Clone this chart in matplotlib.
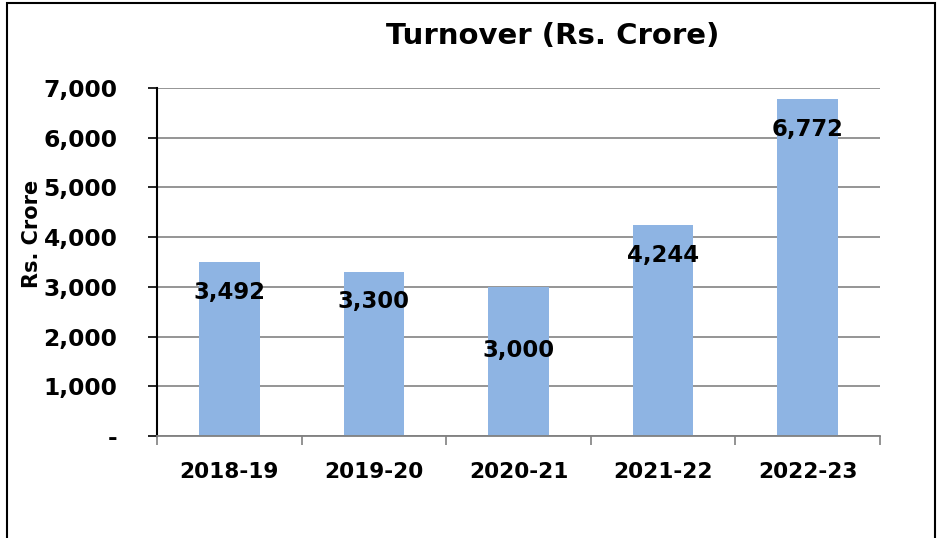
import matplotlib
matplotlib.use('Agg')
import matplotlib.pyplot as plt
from matplotlib.patches import Rectangle

years = ['2018-19', '2019-20', '2020-21', '2021-22', '2022-23']
turnover = [3492, 3300, 3000, 4244, 6772]
ytick_vals = [0, 1000, 2000, 3000, 4000, 5000, 6000, 7000]
ytick_labels = ['-', '1,000', '2,000', '3,000', '4,000', '5,000', '6,000', '7,000']

plt.rcParams['font.family'] = ['DejaVu Sans']
plt.rcParams['font.weight'] = 'bold'

fig = plt.figure(figsize=(9.38, 5.38), dpi=100)
ax = fig.add_axes([157/938, 1-436/538, 723/938, 348/538])

x = range(len(years))
ax.bar(x, turnover, width=0.42, color='#8EB4E3', zorder=2)

# value labels inside the top of the bars
offsets = [-30, -30, -64, -30, -30]
for i, v in enumerate(turnover):
    ax.annotate(f'{v:,}', (i, v), xytext=(0, offsets[i]), textcoords='offset pixels',
                ha='center', va='center', fontsize=16.4, fontweight='bold')

ax.set_xlim(-0.5, len(years)-0.5)
ax.set_ylim(0, 7000)
ax.set_yticks(ytick_vals)
ax.set_yticklabels(ytick_labels, fontsize=16.8, fontweight='bold')
ax.set_xticks([i - 0.5 for i in range(len(years)+1)], minor=False)
ax.set_xticklabels([])
ax.set_xticks(list(x), minor=True)
ax.set_xticklabels(years, minor=True, fontsize=15.6, fontweight='bold')
ax.tick_params(axis='x', which='major', length=6.5, color='#808080', width=1.2)
ax.tick_params(axis='x', which='minor', length=0, pad=19)
ax.tick_params(axis='y', length=6.5, width=1.2, pad=22)

ax.grid(axis='y', color='#8c8c8c', linewidth=1.3, zorder=0)
ax.spines['top'].set_visible(False)
ax.spines['right'].set_visible(False)
ax.spines['left'].set_linewidth(1.5)
ax.spines['bottom'].set_color('#808080')
ax.spines['bottom'].set_linewidth(1.3)

ax.set_ylabel('Rs. Crore', fontsize=15, fontweight='bold')
ax.yaxis.set_label_coords(-0.159, 0.58)
fig.text(553/938, 1-36/538, 'Turnover (Rs. Crore)', ha='center', va='center',
         fontsize=21, fontweight='bold')

# outer frame of the chart area
fig.patches.append(Rectangle((7/938, -0.1), 928/938, 1.1-3/538, transform=fig.transFigure,
                             fill=False, edgecolor='black', linewidth=1.5))

plt.savefig('out.png', dpi=100)
